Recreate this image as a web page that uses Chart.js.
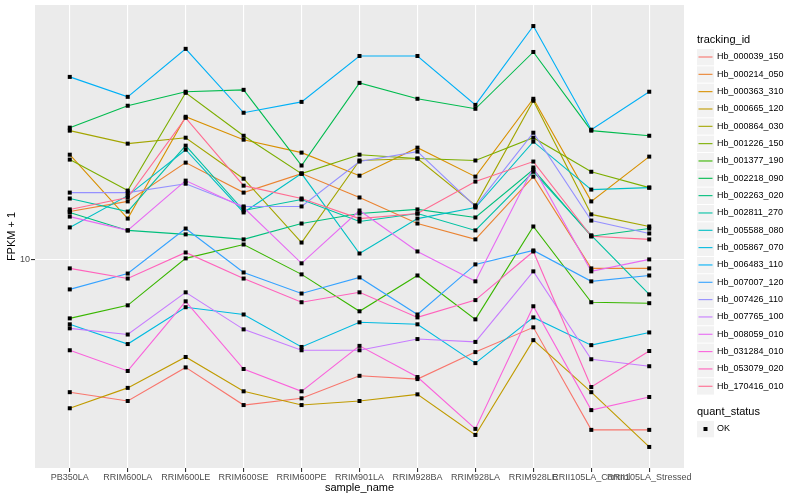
<!DOCTYPE html>
<html>
<head>
<meta charset="utf-8">
<script src="https://cdn.jsdelivr.net/npm/chart.js@4.4.1/dist/chart.umd.min.js"></script>
<style>
  html, body { margin: 0; padding: 0; background: #fff; }
  #wrap { width: 800px; height: 500px; }
</style>
</head>
<body>
<div id="wrap"><canvas id="chart-fpkm"></canvas></div>
<script>
// sample order on the x axis
const samples = ["PB350LA", "RRIM600LA", "RRIM600LE", "RRIM600SE", "RRIM600PE", "RRIM901LA",
    "RRIM928BA", "RRIM928LA", "RRIM928LE", "RRII105LA_Control", "RRII105LA_Stressed"];

const trackingIds = ["Hb_000039_150", "Hb_000214_050", "Hb_000363_310", "Hb_000665_120", "Hb_000864_030",
    "Hb_001226_150", "Hb_001377_190", "Hb_002218_090", "Hb_002263_020", "Hb_002811_270",
    "Hb_005588_080", "Hb_005867_070", "Hb_006483_110", "Hb_007007_120", "Hb_007426_110",
    "Hb_007765_100", "Hb_008059_010", "Hb_031284_010", "Hb_053079_020", "Hb_170416_010"];

// ggplot default hue palette, 20 levels
const colors = ["#F8766D", "#EA8331", "#D89000", "#C09B00", "#A3A500", "#7CAE00", "#39B600", "#00BB4E",
    "#00BF7D", "#00C1A3", "#00BFC4", "#00BAE0", "#00B0F6", "#35A2FF", "#9590FF", "#C77CFF",
    "#E76BF3", "#FA62DB", "#FF62BC", "#FF6C91"];

// FPKM + 1 per sample (same order as samples)
const hb_000039_150 = [6.00, 5.80, 6.60, 5.71, 5.86, 6.39, 6.31, 7.00, 7.70, 5.19, 5.19];
const hb_000214_050 = [12.02, 12.50, 14.51, 12.93, 13.91, 12.69, 11.48, 10.80, 13.75, 9.66, 9.66];
const hb_000363_310 = [14.96, 11.70, 17.31, 15.85, 15.08, 13.80, 15.37, 13.75, 18.55, 12.50, 14.85];
const hb_000665_120 = [5.64, 6.10, 6.87, 6.02, 5.71, 5.80, 5.95, 5.09, 7.33, 6.00, 4.86];
const hb_000864_030 = [16.41, 15.61, 15.97, 13.64, 10.67, 14.63, 14.74, 12.31, 18.41, 11.89, 11.35];
const hb_001226_150 = [14.68, 13.03, 18.98, 16.09, 13.91, 14.96, 14.74, 14.63, 15.97, 14.01, 13.18];
const hb_001377_190 = [7.97, 8.38, 10.04, 10.59, 9.44, 8.19, 9.40, 7.94, 11.35, 8.48, 8.45];
const hb_002218_090 = [16.60, 18.06, 19.06, 19.20, 14.35, 19.72, 18.55, 17.85, 22.21, 16.41, 16.09];
const hb_002263_020 = [11.98, 11.18, 11.01, 10.80, 11.48, 11.93, 12.12, 11.75, 14.13, 10.93, 11.26];
const hb_002811_270 = [12.64, 12.02, 15.49, 12.07, 12.59, 11.57, 11.93, 11.18, 14.01, 10.97, 8.74];
const hb_005588_080 = [11.31, 12.78, 15.25, 11.98, 13.91, 10.23, 11.70, 12.21, 15.73, 13.08, 13.18];
const hb_005867_070 = [7.79, 7.22, 8.32, 8.09, 7.14, 7.85, 7.79, 6.71, 8.00, 7.19, 7.55];
const hb_006483_110 = [20.18, 18.69, 22.48, 17.58, 18.33, 21.87, 21.87, 18.12, 24.54, 16.47, 19.06];
const hb_007007_120 = [8.91, 9.47, 11.26, 9.51, 8.77, 9.33, 8.09, 9.81, 10.35, 9.19, 9.40];
const hb_007426_110 = [12.93, 12.93, 13.38, 12.26, 12.26, 14.57, 15.14, 12.26, 16.28, 11.61, 11.05];
const hb_007765_100 = [7.67, 7.49, 8.81, 7.64, 7.05, 7.05, 7.36, 7.28, 9.55, 6.81, 6.63];
const hb_008059_010 = [11.79, 11.18, 13.54, 12.21, 9.85, 12.07, 10.31, 9.19, 14.24, 9.55, 10.00];
const hb_031284_010 = [7.05, 6.51, 8.51, 6.56, 6.02, 7.17, 6.36, 5.21, 8.35, 5.60, 5.89];
const hb_053079_020 = [9.66, 9.29, 10.27, 9.29, 8.48, 8.81, 8.00, 8.55, 10.31, 6.12, 7.03];
const hb_170416_010 = [12.12, 12.69, 17.24, 13.28, 12.64, 11.70, 11.93, 13.49, 14.57, 10.93, 10.80];

const seriesValues = [hb_000039_150, hb_000214_050, hb_000363_310, hb_000665_120, hb_000864_030,
    hb_001226_150, hb_001377_190, hb_002218_090, hb_002263_020, hb_002811_270,
    hb_005588_080, hb_005867_070, hb_006483_110, hb_007007_120, hb_007426_110,
    hb_007765_100, hb_008059_010, hb_031284_010, hb_053079_020, hb_170416_010];

const yTicks = [10];

const FONT = '"Liberation Sans", Arial, Helvetica, sans-serif';

// log-space range with ggplot's 5% expansion
const allVals = seriesValues.flat();
const logLo = Math.log10(Math.min(...allVals));
const logHi = Math.log10(Math.max(...allVals));
const logPad = (logHi - logLo) * 0.05;

const ggPlugin = {
    id: 'ggPlugin',
    beforeDraw(chart) {
        const { ctx, chartArea: a } = chart;
        ctx.save();
        ctx.fillStyle = '#EBEBEB';
        ctx.fillRect(a.left, a.top, a.right - a.left, a.bottom - a.top);
        ctx.restore();
    },
    afterDatasetsDraw(chart) {
        // points go on top of every line, like geom_point after geom_line
        const ctx = chart.ctx;
        ctx.save();
        ctx.fillStyle = '#000';
        chart.data.datasets.forEach((ds, i) => {
            chart.getDatasetMeta(i).data.forEach((pt) => {
                ctx.fillRect(pt.x - 2, pt.y - 2, 4, 4);
            });
        });
        ctx.restore();
    },
    afterDraw(chart) {
        const { ctx, chartArea: a } = chart;
        ctx.save();
        ctx.fillStyle = '#000';
        ctx.textBaseline = 'middle';

        // axis titles
        ctx.font = '11px ' + FONT;
        ctx.textAlign = 'center';
        ctx.fillText('sample_name', (a.left + a.right) / 2, 488);
        ctx.save();
        ctx.translate(12, (a.top + a.bottom) / 2);
        ctx.rotate(-Math.PI / 2);
        ctx.fillText('FPKM + 1', 0, 0);
        ctx.restore();

        // legend: tracking_id
        const lx = 697;
        ctx.textAlign = 'left';
        ctx.fillText('tracking_id', lx, 40);
        ctx.font = '9px ' + FONT;
        trackingIds.forEach((id, i) => {
            const cy = 57 + i * 17.33;
            ctx.fillStyle = '#F2F2F2';
            ctx.fillRect(lx, cy - 8, 17, 16.3);
            ctx.strokeStyle = colors[i];
            ctx.lineWidth = 1.1;
            ctx.beginPath();
            ctx.moveTo(lx + 1.5, cy);
            ctx.lineTo(lx + 15.5, cy);
            ctx.stroke();
            ctx.fillStyle = '#000';
            ctx.fillText(id, lx + 20, cy);
        });

        // legend: quant_status
        ctx.font = '11px ' + FONT;
        ctx.fillText('quant_status', lx, 412);
        ctx.fillStyle = '#F2F2F2';
        ctx.fillRect(lx, 421, 17, 16.3);
        ctx.fillStyle = '#000';
        ctx.fillRect(lx + 6.5, 427, 4, 4);
        ctx.font = '9px ' + FONT;
        ctx.fillText('OK', lx + 20, 429);
        ctx.restore();
    }
};

const datasets = trackingIds.map((id, i) => ({
    label: id,
    data: seriesValues[i].map((v, j) => ({ x: j, y: v })),
    borderColor: colors[i],
    backgroundColor: colors[i],
    borderWidth: 1.1,
    pointRadius: 0,
    tension: 0,
    fill: false,
    order: -i,
}));

new Chart(document.getElementById('chart-fpkm'), {
    type: 'line',
    data: { datasets },
    options: {
        responsive: true,
        maintainAspectRatio: false,
        animation: false,
        layout: { padding: { top: 5, right: 116, left: 0, bottom: 0 } },
        plugins: {
            legend: { display: false },
            tooltip: { enabled: false },
        },
        scales: {
            x: {
                type: 'linear',
                min: -0.6,
                max: samples.length - 1 + 0.6,
                afterBuildTicks: (scale) => {
                    scale.ticks = samples.map((s, i) => ({ value: i }));
                },
                afterFit: (scale) => {
                    scale.height = 32;
                    scale.paddingLeft = 0;
                    scale.paddingRight = 0;
                },
                ticks: {
                    autoSkip: false,
                    maxRotation: 0,
                    minRotation: 0,
                    padding: 0,
                    color: '#4D4D4D',
                    font: { family: FONT, size: 9 },
                    callback: (v) => samples[v],
                },
                grid: { color: '#FFFFFF', lineWidth: 1.1, tickColor: '#333333', tickLength: 4 },
                border: { display: false },
            },
            y: {
                type: 'logarithmic',
                min: Math.pow(10, logLo - logPad),
                max: Math.pow(10, logHi + logPad),
                afterBuildTicks: (scale) => {
                    scale.ticks = yTicks.map((v) => ({ value: v }));
                },
                afterFit: (scale) => {
                    scale.width = 35;
                    scale.paddingTop = 0;
                    scale.paddingBottom = 0;
                },
                ticks: {
                    padding: 1,
                    color: '#4D4D4D',
                    font: { family: FONT, size: 9 },
                    callback: (v) => String(v),
                },
                grid: { color: '#FFFFFF', lineWidth: 1.1, tickColor: '#333333', tickLength: 4 },
                border: { display: false },
            },
        },
    },
    plugins: [ggPlugin],
});
</script>
</body>
</html>
